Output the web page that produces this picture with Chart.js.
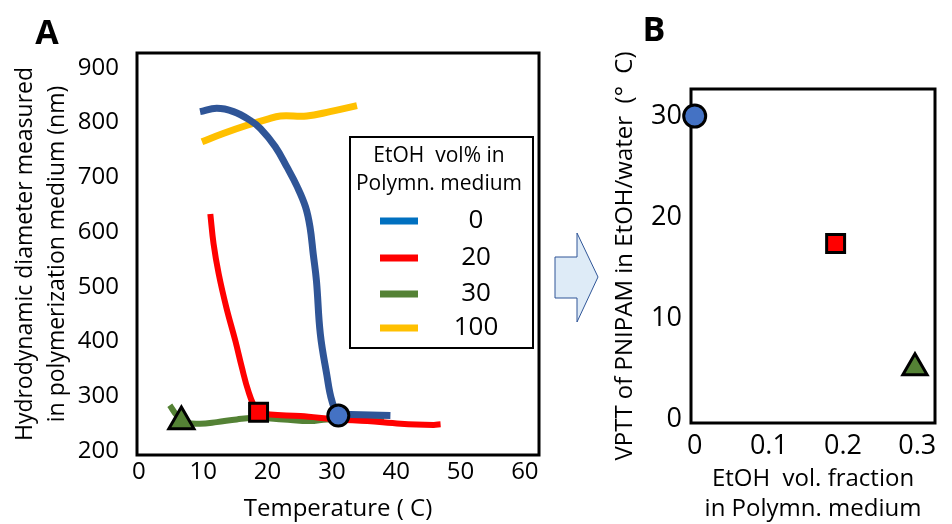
<!DOCTYPE html>
<html>
<head>
<meta charset="utf-8">
<script src="https://cdn.jsdelivr.net/npm/chart.js@4.4.0/dist/chart.umd.min.js"></script>
<style>
  body { margin: 0; background: #fff; }
  #wrap { position: relative; width: 952px; height: 524px; overflow: hidden; }
  canvas { position: absolute; top: 0; }
  #chartA { left: 0; }
  #chartB { left: 600px; }
</style>
</head>
<body>
<div id="wrap">
  <canvas id="chartA" width="600" height="524"></canvas>
  <canvas id="chartB" width="352" height="524"></canvas>
</div>
<script>
// Panel A data: diameter (nm) vs temperature (C), one curve per EtOH vol%
var seriesLabels = ["0", "20", "30", "100"];
var lineColors = ["#2F5597", "#FF0000", "#548235", "#FFC000"];
var legendColors = ["#0070C0", "#FF0000", "#548235", "#FFC000"];

var temp0 = [9.5, 12.1, 14.7, 17.3, 18.9, 21.2, 23.0, 24.6, 25.9, 26.6, 27.1, 27.6, 28.2, 29.2, 30.0, 31.0, 32.9, 39.1];
var diam0 = [820, 826, 820, 804, 789, 756, 719, 683, 646, 609, 560, 511, 414, 340, 292, 268, 267, 265];

var temp20 = [11.1, 11.6, 12.4, 13.6, 15.0, 16.0, 17.0, 18.1, 19.2, 20.4, 25.1, 30.8, 35.5, 40.7, 45.8, 46.9];
var diam20 = [633, 579, 524, 462, 401, 353, 310, 279, 270, 267, 264, 258, 255, 250, 248, 249];

var temp30 = [4.8, 6.0, 7.5, 9.5, 12.1, 15.2, 18.3, 22.5, 26.6, 29.2, 32.9, 38.1];
var diam30 = [284, 264, 252, 250, 253, 258, 261, 258, 255, 258, 258, 255];

var temp100 = [9.8, 13.1, 16.8, 19.9, 22.0, 26.1, 29.7, 33.9];
var diam100 = [765, 780, 795, 806, 812, 812, 820, 831];

// transition points marked on the curves (0, 20, 30 vol%)
var markTemp = [31.0, 18.6, 6.6];
var markDiam = [265, 271, 254];

var xTicksA = [0, 10, 20, 30, 40, 50, 60];
var yTicksA = [200, 300, 400, 500, 600, 700, 800, 900];

// Panel B data: VPTT vs EtOH volume fraction
var etohFrac = [0, 0.19, 0.297];
var vptt = [30.0, 17.4, 5.1];

var xTicksB = [0, 0.1, 0.2, 0.3];
var yTicksB = [0, 10, 20, 30];

var markStyles = ["circle", "rect", "triangle"];
var markFills = ["#4472C4", "#FF0000", "#548235"];
var markRadius = [10.5, 12.7, 14.5];

Chart.defaults.font.family = "'Open Sans', sans-serif";
Chart.defaults.color = "#000";

function zip(xs, ys) {
  return xs.map(function (x, i) { return { x: x, y: ys[i] }; });
}

function fixedTicks(values) {
  return function (scale) {
    scale.ticks = values.map(function (v) { return { value: v }; });
  };
}

var framePlugin = {
  id: "frame",
  beforeDatasetsDraw: function (chart) {
    var a = chart.chartArea, ctx = chart.ctx;
    ctx.save();
    ctx.strokeStyle = "#000";
    ctx.lineWidth = 3;
    ctx.strokeRect(a.left, a.top, a.right - a.left, a.bottom - a.top);
    ctx.restore();
  }
};

// legend box, panel letter and arrow for panel A
var decorA = {
  id: "decorA",
  afterDraw: function (chart) {
    var ctx = chart.ctx;
    ctx.save();
    ctx.strokeStyle = "#000";
    ctx.lineWidth = 2;
    ctx.strokeRect(350, 137, 183, 211);
    ctx.fillStyle = "#000";
    ctx.textAlign = "center";
    ctx.textBaseline = "middle";
    ctx.font = "21px 'Open Sans'";
    ctx.fillText("EtOH  vol% in", 439, 156);
    ctx.fillText("Polymn. medium", 439, 184);
    var rows = [221, 258, 294, 328];
    ctx.font = "26px 'Open Sans'";
    seriesLabels.forEach(function (lab, i) {
      ctx.strokeStyle = legendColors[i];
      ctx.lineWidth = 7;
      ctx.beginPath();
      ctx.moveTo(380, rows[i]);
      ctx.lineTo(418, rows[i]);
      ctx.stroke();
      ctx.fillText(lab, 476, rows[i]);
    });

    ctx.font = "bold 34px 'Open Sans'";
    ctx.fillText("A", 47, 34);

    // arrow A -> B
    ctx.beginPath();
    ctx.moveTo(555, 257);
    ctx.lineTo(577, 257);
    ctx.lineTo(577, 233);
    ctx.lineTo(598, 277);
    ctx.lineTo(577, 322);
    ctx.lineTo(577, 298);
    ctx.lineTo(555, 298);
    ctx.closePath();
    ctx.fillStyle = "#DEEBF7";
    ctx.fill();
    ctx.strokeStyle = "#2F5597";
    ctx.lineWidth = 1;
    ctx.stroke();
    ctx.restore();
  }
};

var decorB = {
  id: "decorB",
  afterDraw: function (chart) {
    var ctx = chart.ctx;
    ctx.save();
    ctx.fillStyle = "#000";
    ctx.textAlign = "center";
    ctx.textBaseline = "middle";
    ctx.font = "bold 34px 'Open Sans'";
    ctx.fillText("B", 54, 31);
    ctx.restore();
  }
};

function curve(xs, ys, i, width) {
  return {
    data: zip(xs, ys),
    showLine: true,
    borderColor: lineColors[i],
    borderWidth: width,
    pointRadius: 0,
    tension: 0.4,
    borderCapStyle: "butt",
    borderJoinStyle: "round",
    fill: false
  };
}

function marker(x, y, i) {
  return {
    data: [{ x: x, y: y }],
    showLine: false,
    pointStyle: markStyles[i],
    pointRadius: markRadius[i],
    pointBackgroundColor: markFills[i],
    pointBorderColor: "#000",
    pointBorderWidth: 3,
    clip: false,
    order: -1
  };
}

var datasetsA = [
  curve(temp0, diam0, 0, 7),
  curve(temp20, diam20, 1, 6),
  curve(temp30, diam30, 2, 6),
  curve(temp100, diam100, 3, 7)
];
markTemp.forEach(function (t, i) {
  datasetsA.push(marker(t, markDiam[i], i));
});

new Chart(document.getElementById("chartA"), {
  type: "scatter",
  data: { datasets: datasetsA },
  options: {
    responsive: false,
    animation: false,
    layout: { padding: { top: 53, right: 61, left: 0, bottom: 0 } },
    plugins: { legend: { display: false }, tooltip: { enabled: false } },
    scales: {
      x: {
        min: -0.3,
        max: 62.2,
        afterBuildTicks: fixedTicks(xTicksA),
        afterFit: function (s) { s.height = 69; },
        grid: { display: false, drawTicks: false },
        border: { display: false },
        ticks: { font: { size: 24 }, padding: 3, maxRotation: 0 },
        title: {
          display: true,
          text: "Temperature ( C)",
          font: { size: 24 },
          padding: { top: 0, bottom: 0 }
        }
      },
      y: {
        min: 193,
        max: 927,
        afterBuildTicks: fixedTicks(yTicksA),
        afterFit: function (s) { s.width = 137; },
        grid: { display: false, drawTicks: false },
        border: { display: false },
        ticks: { font: { size: 24 }, padding: 18 },
        title: {
          display: true,
          text: ["Hydrodynamic diameter measured", "in polymerization medium (nm)"],
          font: { size: 23, lineHeight: "32px" },
          padding: { top: 9, bottom: 0 }
        }
      }
    }
  },
  plugins: [framePlugin, decorA]
});

var datasetsB = etohFrac.map(function (f, i) {
  var d = marker(f, vptt[i], i);
  d.pointRadius = [11, 12.7, 14][i];
  return d;
});

new Chart(document.getElementById("chartB"), {
  type: "scatter",
  data: { datasets: datasetsB },
  options: {
    responsive: false,
    animation: false,
    layout: { padding: { top: 89, right: 1, left: 0, bottom: 0 } },
    plugins: { legend: { display: false }, tooltip: { enabled: false } },
    scales: {
      x: {
        min: -0.005,
        max: 0.324,
        afterBuildTicks: fixedTicks(xTicksB),
        afterFit: function (s) { s.height = 101; },
        grid: { display: false, drawTicks: false },
        border: { display: false },
        ticks: { font: { size: 27 }, padding: 7, maxRotation: 0 },
        title: {
          display: true,
          text: ["EtOH  vol. fraction", "in Polymn. medium"],
          font: { size: 24, lineHeight: "30px" },
          padding: { top: 0, bottom: 0 }
        }
      },
      y: {
        min: -0.36,
        max: 32.68,
        afterBuildTicks: fixedTicks(yTicksB),
        afterFit: function (s) { s.width = 91; },
        grid: { display: false, drawTicks: false },
        border: { display: false },
        ticks: { font: { size: 27 }, padding: 9 },
        title: {
          display: true,
          text: "VPTT of PNIPAM in EtOH/water  (°  C)",
          font: { size: 24 },
          padding: { top: 11, bottom: 0 }
        }
      }
    }
  },
  plugins: [framePlugin, decorB]
});
</script>
</body>
</html>
